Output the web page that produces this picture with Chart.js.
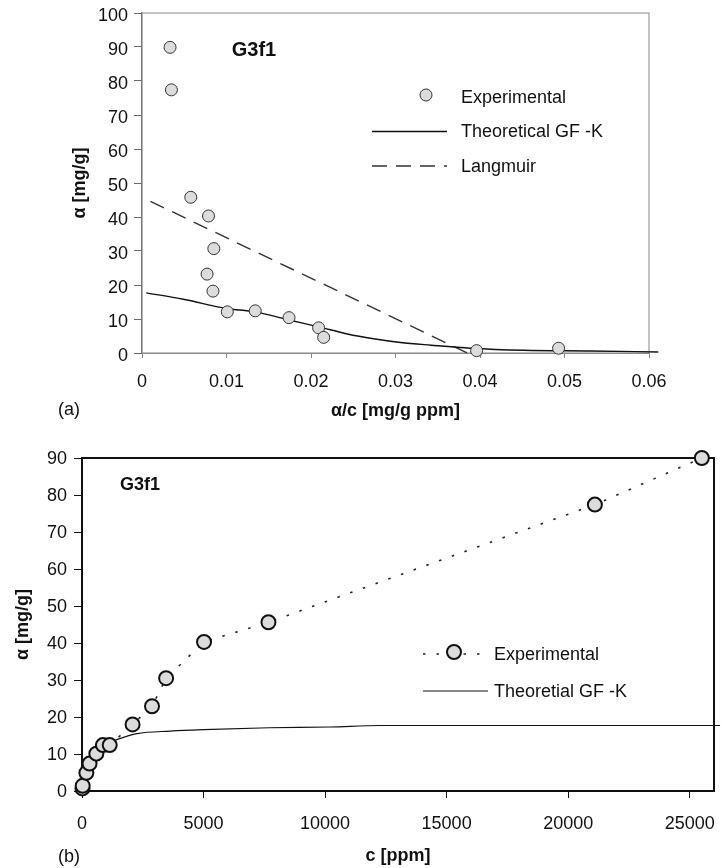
<!DOCTYPE html>
<html>
<head>
<meta charset="utf-8">
<script src="https://cdn.jsdelivr.net/npm/chart.js@4.4.0/dist/chart.umd.min.js"></script>
<style>
body { margin: 0; background: #fff; width: 723px; height: 868px; position: relative; overflow: hidden; font-family: 'Liberation Sans', Arial, sans-serif; }
#c1 { position: absolute; left: 0; top: 0; }
#c2 { position: absolute; left: 0; top: 420px; }
.lab { position: absolute; font-size: 18px; color: #111; }
</style>
</head>
<body>
<canvas id="c1" width="723" height="430"></canvas>
<canvas id="c2" width="723" height="448"></canvas>
<div class="lab" style="left:58px;top:399px">(a)</div>
<div class="lab" style="left:58px;top:846px">(b)</div>
<script>
// (a) a against a/c
var acExp = [0.00332, 0.00348, 0.00577, 0.00787, 0.0085, 0.0077, 0.0084, 0.0101, 0.0134, 0.0174, 0.0209, 0.0215, 0.0396, 0.0493];
var aExpA = [89.9, 77.4, 45.8, 40.3, 30.7, 23.2, 18.2, 12.1, 12.4, 10.4, 7.4, 4.6, 0.7, 1.4];
var acTheo = [0.0005, 0.0049, 0.0100, 0.0134, 0.0174, 0.0209, 0.0243, 0.0274, 0.0306, 0.0342, 0.0389, 0.0452, 0.0531, 0.0611];
var aTheoA = [17.7, 15.8, 13.1, 12.1, 9.7, 7.7, 5.6, 4.2, 3.1, 2.3, 1.4, 0.8, 0.6, 0.3];
var acLang = [0.001, 0.0385];
var aLang = [44.6, 0];
var xTicksA = [0, 0.01, 0.02, 0.03, 0.04, 0.05, 0.06];
var yTicksA = [0, 10, 20, 30, 40, 50, 60, 70, 80, 90, 100];

// (b) a against c
var cExp = [18, 28, 180, 310, 590, 860, 1140, 2080, 2880, 3460, 5020, 7670, 21100, 25500];
var aExpB = [0.7, 1.4, 4.9, 7.4, 10.1, 12.4, 12.4, 18.0, 22.9, 30.5, 40.3, 45.6, 77.4, 90.0];
var cTheo = [0, 60, 150, 300, 500, 800, 1100, 1440, 2260, 3630, 5000, 7700, 10200, 12250, 26250];
var aTheoB = [0, 2.2, 4.5, 7.3, 9.6, 11.8, 13.0, 13.9, 15.5, 16.2, 16.6, 17.1, 17.3, 17.7, 17.7];
var xTicksB = [0, 5000, 10000, 15000, 20000, 25000];
var yTicksB = [0, 10, 20, 30, 40, 50, 60, 70, 80, 90];

var FONT = "'Liberation Sans', Arial, sans-serif";

function pts(xs, ys) {
	return xs.map(function(x, i) { return {x: x, y: ys[i]}; });
}

var frameLegend = {
	id: 'frameLegend',
	beforeDatasetsDraw: function(chart, args, o) {
		var ctx = chart.ctx, ca = chart.chartArea;
		ctx.save();
		ctx.strokeStyle = o.frameColor;
		ctx.lineWidth = o.frameWidth;
		ctx.strokeRect(ca.left, ca.top, ca.right - ca.left, ca.bottom - ca.top);
		ctx.restore();
	},
	afterDraw: function(chart, args, o) {
		var ctx = chart.ctx, ca = chart.chartArea;
		ctx.save();
		ctx.fillStyle = '#111';
		ctx.textAlign = 'center';
		ctx.textBaseline = 'middle';
		ctx.font = 'bold ' + o.tagSize + 'px ' + FONT;
		ctx.fillText('G3f1', ca.left + o.tagX, ca.top + o.tagY);
		ctx.font = '18px ' + FONT;
		ctx.textAlign = 'left';
		chart.data.datasets.forEach(function(ds, i) {
			var y = ca.top + o.rowY + i * o.rowGap;
			if (ds.showLine) {
				ctx.beginPath();
				ctx.setLineDash(ds.borderDash || []);
				ctx.strokeStyle = ds.borderColor;
				ctx.lineWidth = ds.borderWidth;
				ctx.moveTo(ca.left + o.x1, y);
				ctx.lineTo(ca.left + o.x2, y);
				ctx.stroke();
				ctx.setLineDash([]);
			}
			if (ds.pointRadius) {
				ctx.beginPath();
				ctx.arc(ca.left + o.mx, y - 2, ds.pointRadius, 0, Math.PI * 2);
				ctx.fillStyle = ds.pointBackgroundColor;
				ctx.fill();
				ctx.lineWidth = ds.pointBorderWidth;
				ctx.strokeStyle = ds.pointBorderColor;
				ctx.stroke();
			}
			ctx.fillStyle = '#111';
			ctx.fillText(ds.label, ca.left + o.tx, y + 1);
		});
		ctx.restore();
	}
};

function axis(min, max, tickVals, fmt, title, tpad, tickLen, tickPad, size, color, bw, lblOff) {
	return {
		type: 'linear', min: min, max: max,
		afterBuildTicks: function(sc) { sc.ticks = tickVals.map(function(v) { return {value: v}; }); },
		afterFit: function(sc) {
			if (sc.isHorizontal()) sc.height = size; else sc.width = size;
			sc.paddingLeft = 0; sc.paddingRight = 0; sc.paddingTop = 0; sc.paddingBottom = 0;
		},
		grid: { drawOnChartArea: false, drawTicks: true, tickLength: tickLen, color: color },
		border: { color: color, width: bw },
		ticks: { padding: tickPad, labelOffset: lblOff || 0, color: '#111', autoSkip: false, maxRotation: 0, font: { family: FONT, size: 18 }, callback: fmt },
		title: { display: true, text: title, color: '#111', padding: tpad, font: { family: FONT, size: 18, weight: 'bold' } }
	};
}

new Chart(document.getElementById('c1').getContext('2d'), {
	type: 'scatter',
	data: {
		datasets: [{
			label: 'Experimental',
			data: pts(acExp, aExpA),
			showLine: false,
			clip: false,
			pointRadius: 6,
			pointBackgroundColor: '#dcdcdc',
			pointBorderColor: '#333',
			pointBorderWidth: 1
		}, {
			label: 'Theoretical GF -K',
			data: pts(acTheo, aTheoA),
			showLine: true,
			clip: false,
			cubicInterpolationMode: 'monotone',
			borderColor: '#111',
			borderWidth: 1.4,
			pointRadius: 0
		}, {
			label: 'Langmuir',
			data: pts(acLang, aLang),
			showLine: true,
			borderColor: '#333',
			borderWidth: 1.4,
			borderDash: [15, 9],
			pointRadius: 0
		}]
	},
	options: {
		responsive: false,
		animation: false,
		layout: { padding: { top: 13, left: 0, right: 74, bottom: 0 } },
		plugins: {
			legend: { display: false },
			tooltip: { enabled: false },
			frameLegend: { frameColor: '#888', frameWidth: 1, tagSize: 20, tagX: 112, tagY: 37,
				x1: 230, x2: 305, mx: 284, tx: 319, rowY: 84, rowGap: 34.5 }
		},
		scales: {
			x: axis(0, 0.06, xTicksA, function(v) { return v === 0 ? '0' : v.toFixed(2); },
				'\u03b1/c [mg/g ppm]', { top: 0, bottom: 8 }, 5, 13, 77, '#888', 1),
			y: axis(0, 100, yTicksA, function(v) { return String(v); },
				'\u03b1 [mg/g]', { top: 69, bottom: 0 }, 8, 6, 142, '#666', 1.2, 3)
		}
	},
	plugins: [frameLegend]
});

new Chart(document.getElementById('c2').getContext('2d'), {
	type: 'scatter',
	data: {
		datasets: [{
			label: 'Experimental',
			data: pts(cExp, aExpB),
			showLine: true,
			clip: false,
			borderColor: '#222',
			borderWidth: 1.6,
			borderDash: [2.5, 11],
			pointRadius: 7,
			pointBackgroundColor: '#dcdcdc',
			pointBorderColor: '#111',
			pointBorderWidth: 2
		}, {
			label: 'Theoretial GF -K',
			data: pts(cTheo, aTheoB),
			showLine: true,
			clip: false,
			cubicInterpolationMode: 'monotone',
			borderColor: '#111',
			borderWidth: 1.2,
			pointRadius: 0
		}]
	},
	options: {
		responsive: false,
		animation: false,
		layout: { padding: { top: 38, left: 0, right: 9, bottom: 0 } },
		plugins: {
			legend: { display: false },
			tooltip: { enabled: false },
			frameLegend: { frameColor: '#111', frameWidth: 2, tagSize: 18, tagX: 58, tagY: 27,
				x1: 341, x2: 406, mx: 372, tx: 412, rowY: 196, rowGap: 37 }
		},
		scales: {
			x: axis(0, 26000, xTicksB, function(v) { return String(v); },
				'c [ppm]', { top: 0, bottom: 1 }, 7, 15, 77, '#111', 2),
			y: axis(0, 90, yTicksB, function(v) { return String(v); },
				'\u03b1 [mg/g]', { top: 12, bottom: 0 }, 8, 7, 82, '#111', 2, 1)
		}
	},
	plugins: [frameLegend]
});
</script>
</body>
</html>
